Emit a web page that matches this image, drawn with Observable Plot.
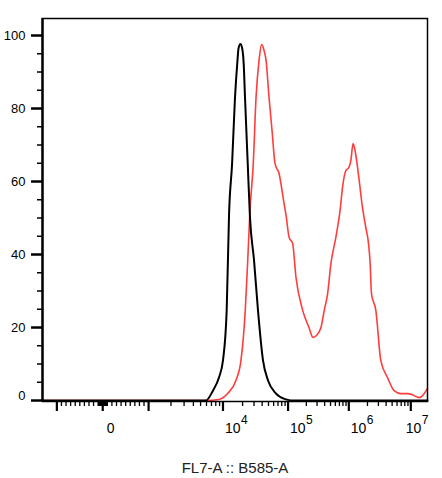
<!DOCTYPE html>
<html><head><meta charset="utf-8">
<script src="https://cdn.jsdelivr.net/npm/d3@7"></script>
<script src="https://cdn.jsdelivr.net/npm/@observablehq/plot@0.6"></script>
<style>html,body{margin:0;padding:0;background:#fff}svg{display:block}</style>
</head><body><div id="chart"></div>
<script>
// ---- data (FL7-A :: B585-A intensity, % of max) ----
const blackX = [-1560, 5890, 7330, 8830, 10000, 11400, 12400, 13800, 15300, 16700, 17300, 18500, 19600, 20800, 21800, 24000, 26000, 30000, 34500, 41200, 49200, 65300, 93200, 112000, 1.86e7];
const blackY = [0, 0, 2.7, 6.3, 11.0, 24.7, 51.2, 64.9, 83.0, 93.2, 96.4, 97.7, 96.7, 92.3, 83.0, 64.9, 50.1, 38.4, 24.7, 11.0, 5.5, 1.9, 0.3, 0, 0];

const redX = [-1560, 5890, 8830, 11800, 15800, 18900, 22000, 24000, 26000, 29200, 32200, 35800, 39300, 42800, 45900, 51000, 56700, 63100, 72700, 86700, 93200, 104000, 119000, 135000, 174000, 221000, 257000, 293000, 348000, 394000, 448000, 507000, 612000, 719000, 788000, 893000, 1000000, 1080000, 1170000, 1260000, 1470000, 1660000, 1880000, 2080000, 2210000, 2320000, 2730000, 3280000, 4210000, 5380000, 6900000, 8850000, 11200000, 13600000, 15000000, 18600000];
const redY = [0, 0, 0.3, 1.9, 5.5, 11.0, 24.7, 38.4, 52.1, 64.9, 83.0, 93.2, 97.5, 95.9, 93.2, 83.0, 74.0, 64.9, 62.2, 54.0, 50.7, 44.7, 43.0, 33.7, 24.7, 20.0, 17.3, 17.8, 20.0, 24.7, 29.3, 37.5, 44.7, 52.1, 58.4, 63.0, 63.8, 65.8, 70.4, 68.5, 60.3, 52.9, 47.4, 43.0, 37.5, 29.3, 24.7, 11.0, 6.3, 2.7, 1.9, 1.9, 1.4, 0.8, 1.1, 3.3];

const xMajorTicks = [-1000, 0, 1000, 1e4, 1e5, 1e6, 1e7];
const xPowerLabels = [1e4, 1e5, 1e6];
const xLastLabel = [1e7];
const xZeroLabel = [0];
const yMajorTicks = [0, 20, 40, 60, 80, 100];
const yMinorTicks = [5, 10, 15, 25, 30, 35, 45, 50, 55, 65, 70, 75, 85, 90, 95];
const xTitle = "FL7-A :: B585-A";
const yDomain = [-0.27, 104.66];

// minor x ticks: linear steps near zero, log steps in upper decades
const xMinorTicks = [];
for (let m = 1; m <= 9; m++) {
  xMinorTicks.push(m * 10, -m * 10, m * 100, -m * 100);
}
for (const d of [1e3, 1e4, 1e5, 1e6]) {
  for (let m = 2; m <= 9; m++) xMinorTicks.push(m * d);
}

const black = blackX.map((x, i) => ({x, y: blackY[i]}));
const red = redX.map((x, i) => ({x, y: redY[i]}));

// biexponential-like display transform (linear near 0, logarithmic decades above)
const decade = d3.scaleLinear().domain([3, 4, 5, 6, 7]).range([0.74, 1.94, 2.99, 3.97, 4.97]);
const biex = (v) => {
  const a = Math.abs(v);
  const t = a <= 1000 ? (a / 1000) * 0.74 : decade(Math.log10(a));
  return v < 0 ? -t : t;
};

const font = "'Liberation Sans', Arial, sans-serif";
const blank = () => "";
const expo = (d) => String(Math.round(Math.log10(d)));

const chart = Plot.plot({
  width: 442,
  height: 478,
  marginLeft: 42,
  marginRight: 15,
  marginTop: 18,
  marginBottom: 77,
  style: {fontFamily: font, background: "#fff", color: "#000", overflow: "visible"},
  x: {type: "linear", transform: biex, label: null},
  y: {domain: yDomain, label: null},
  marks: [
    Plot.line(red, {x: "x", y: "y", stroke: "#ff3d3d", strokeWidth: 1.6, curve: "monotone-x"}),
    Plot.line(black, {x: "x", y: "y", stroke: "#000", strokeWidth: 2, curve: "monotone-x"}),
    Plot.frame({stroke: "#000", strokeWidth: 1.5}),
    Plot.ruleX([-1560], {stroke: "#000", strokeWidth: 2.4}),
    // y axis
    Plot.axisY(yMinorTicks, {tickSize: 5, strokeWidth: 1.5, stroke: "#000", tickFormat: blank, label: null}),
    Plot.axisY(yMajorTicks, {tickSize: 11, strokeWidth: 2.5, stroke: "#000", tickFormat: blank, label: null}),
    Plot.axisY(yMajorTicks.filter((d) => d !== 0), {tickSize: 0, tickPadding: 17, fontSize: 13, label: null}),
    Plot.axisY([0], {tickSize: 0, tickPadding: 17, fontSize: 13, dy: -5, label: null}),
    // x axis
    Plot.axisX(xMinorTicks, {tickSize: 5, strokeWidth: 1.3, stroke: "#000", tickFormat: blank, label: null}),
    Plot.axisX(xMajorTicks, {tickSize: 10, strokeWidth: 2.2, stroke: "#000", tickFormat: blank, label: null}),
    Plot.axisX(xZeroLabel, {tickSize: 0, tickPadding: 22, fontSize: 14, textAnchor: "middle", dx: 8, tickFormat: () => "0", label: null}),
    Plot.axisX(xPowerLabels, {tickSize: 0, tickPadding: 22, fontSize: 14, textAnchor: "start", dx: 2, tickFormat: () => "10", label: null}),
    Plot.axisX(xPowerLabels, {tickSize: 0, tickPadding: 22, fontSize: 12, textAnchor: "start", dx: 18, dy: -8, tickFormat: expo, label: null}),
    Plot.axisX(xLastLabel, {tickSize: 0, tickPadding: 22, fontSize: 14, textAnchor: "start", dx: -5, tickFormat: () => "10", label: null}),
    Plot.axisX(xLastLabel, {tickSize: 0, tickPadding: 22, fontSize: 12, textAnchor: "start", dx: 11, dy: -8, tickFormat: expo, label: null}),
    // x title
    Plot.text([xTitle], {frameAnchor: "bottom", dy: 67, text: (d) => d, fontSize: 15, lineAnchor: "middle", fill: "#222"})
  ]
});
document.getElementById("chart").appendChild(chart);
</script>
</body></html>
